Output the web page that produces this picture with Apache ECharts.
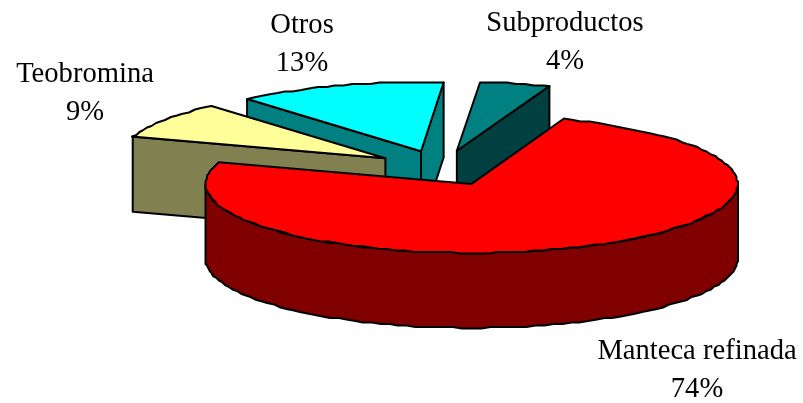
<!DOCTYPE html>
<html>
<head>
<meta charset="utf-8">
<title>Pie</title>
<style>
  html, body { margin: 0; padding: 0; background: #fff; }
  #container { width: 803px; height: 403px; }
</style>
</head>
<body>
<div id="container"></div>
<script src="https://cdn.jsdelivr.net/npm/echarts@6/dist/echarts.min.js"></script>
<script>
// clockwise from the back left
var categories = ['Teobromina', 'Otros', 'Subproductos', 'Manteca refinada'];
var shares = [8.6, 12.7, 4.3, 74.4];
var topColors = ['#FFFF99', '#00FFFF', '#008080', '#FF0000'];
var sideColors = ['#808050', '#008080', '#004040', '#800000'];
var labelCenters = [[85, 93], [302, 44], [565, 42], [697, 370]];

// 3d look
var center = [442, 168];
var rx = 266, ry = 69;
var depth = 75;
var explode = 68;
var startAngle = 288.2;
var stepDeg = 2;
var jag = 1.5;

var total = 0;
shares.forEach(function(v) { total += v; });

var angles = [];
var acc = startAngle;
shares.forEach(function(v) {
  var span = v / total * 360;
  angles.push([acc, acc + span]);
  acc += span;
});

function rad(d) { return d * Math.PI / 180; }

// screen point for an angle (clockwise from the back), radius 0..1
function project(o, a, r, dy) {
  return [
    o[0] + r * rx * Math.sin(rad(a)),
    o[1] - r * ry * Math.cos(rad(a)) + (dy || 0)
  ];
}

function snap(p) {
  return [Math.round(p[0] / jag) * jag, Math.round(p[1] / jag) * jag];
}

function rim(o, a0, a1, dy) {
  var pts = [];
  for (var a = a0; a < a1; a += stepDeg) pts.push(snap(project(o, a, 1, dy)));
  pts.push(project(o, a1, 1, dy));
  return pts;
}

function poly(points, fill, z2) {
  return {
    type: 'polygon',
    z2: z2,
    shape: { points: points },
    style: { fill: fill, stroke: '#000', lineWidth: 2, lineJoin: 'round' }
  };
}

function cutFace(o, a, fill, z2) {
  var tip = project(o, a, 0), edge = project(o, a, 1);
  return poly([tip, edge, [edge[0], edge[1] + depth], [tip[0], tip[1] + depth]], fill, z2);
}

function renderSlice(params, api) {
  var i = params.dataIndex;
  var a0 = angles[i][0], a1 = angles[i][1];
  var mid = (a0 + a1) / 2;
  // the explosion follows the pie plane, so it is flattened like the rim
  var o = [center[0] + explode * Math.sin(rad(mid)), center[1] - explode * ry / rx * Math.cos(rad(mid))];
  // back slices first
  var z2 = Math.round(10 - 10 * Math.cos(rad(mid)));

  var children = [];
  // sides that face the viewer
  if (Math.cos(rad(a0 - 90)) < 0) children.push(cutFace(o, a0, sideColors[i], z2));
  if (Math.cos(rad(a1 + 90)) < 0) children.push(cutFace(o, a1, sideColors[i], z2));

  // outer wall, front half of the rim only (angles here run past 360)
  for (var k = 0; k < 2; k++) {
    var w0 = Math.max(a0, 90 + 360 * k), w1 = Math.min(a1, 270 + 360 * k);
    if (w1 > w0) {
      var upper = rim(o, w0, w1, 0);
      var lower = rim(o, w0, w1, depth).reverse();
      children.push(poly(upper.concat(lower), sideColors[i], z2));
    }
  }

  // top
  children.push(poly([project(o, a0, 0)].concat(rim(o, a0, a1, 0)), topColors[i], z2));

  return { type: 'group', children: children };
}

function renderLabel(params, api) {
  var i = params.dataIndex;
  return {
    type: 'text',
    z2: 100,
    style: {
      text: categories[i] + '\n' + Math.round(api.value(0)) + '%',
      x: labelCenters[i][0],
      y: labelCenters[i][1],
      align: 'center',
      verticalAlign: 'middle',
      font: '28.6px "Liberation Serif"',
      lineHeight: 38,
      fill: '#000'
    }
  };
}

var dom = document.getElementById('container');
var myChart = echarts.init(dom);
var option = {
  animation: false,
  backgroundColor: '#fff',
  series: [
    { type: 'custom', coordinateSystem: 'none', silent: true, renderItem: renderSlice, data: shares },
    { type: 'custom', coordinateSystem: 'none', silent: true, renderItem: renderLabel, data: shares, z: 5 }
  ]
};
myChart.setOption(option);
</script>
</body>
</html>
